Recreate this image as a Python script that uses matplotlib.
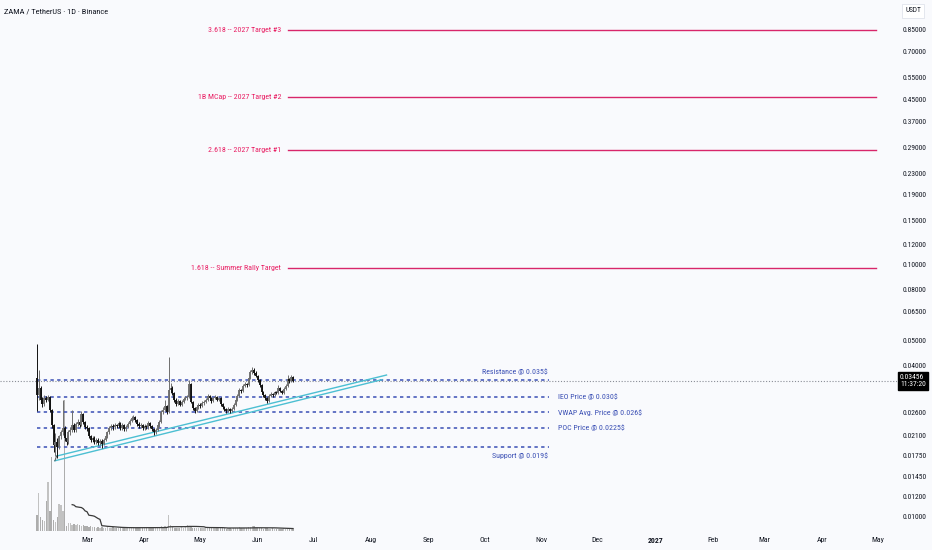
import datetime as dt
import matplotlib
matplotlib.use("Agg")
import matplotlib.pyplot as plt
import matplotlib.dates as mdates
import matplotlib.ticker as mticker
import matplotlib.transforms as mtrans
from matplotlib import font_manager
import numpy as np
import pandas as pd

# ---------------- data ----------------
first_date = dt.date(2026, 2, 2)
open0 = 0.0356
close = [0.0304,0.0325,0.0291,0.0280,0.0296,0.0291,0.0299,0.0265,0.0231,0.0193,
0.0198,0.0189,0.0209,0.0217,0.0225,0.0206,0.0198,0.0217,0.0221,0.0231,
0.0221,0.0234,0.0238,0.0231,0.0256,0.0238,0.0227,0.0225,0.0209,0.0202,
0.0206,0.0198,0.0202,0.0196,0.0200,0.0195,0.0202,0.0209,0.0217,0.0225,
0.0229,0.0227,0.0231,0.0229,0.0236,0.0225,0.0231,0.0223,0.0227,0.0234,
0.0240,0.0247,0.0249,0.0242,0.0234,0.0229,0.0231,0.0225,0.0229,0.0227,
0.0236,0.0229,0.0223,0.0217,0.0221,0.0231,0.0238,0.0261,0.0265,0.0275,
0.0261,0.0318,0.0325,0.0310,0.0291,0.0280,0.0288,0.0278,0.0286,0.0294,
0.0296,0.0299,0.0337,0.0286,0.0270,0.0263,0.0273,0.0278,0.0275,0.0283,
0.0286,0.0291,0.0302,0.0296,0.0288,0.0296,0.0299,0.0291,0.0296,0.0280,
0.0273,0.0268,0.0263,0.0268,0.0263,0.0268,0.0278,0.0291,0.0302,0.0318,
0.0316,0.0330,0.0337,0.0333,0.0355,0.0375,0.0382,0.0372,0.0362,0.0349,
0.0333,0.0313,0.0304,0.0296,0.0288,0.0302,0.0307,0.0304,0.0313,0.0310,
0.0325,0.0316,0.0310,0.0322,0.0330,0.0352,0.0346,0.0359,0.03456]
high = [0.0485,0.0382,0.0330,0.0300,0.0305,0.0302,0.0305,0.0302,0.0268,0.0234,
0.0215,0.0205,0.0212,0.0222,0.0291,0.0229,0.0212,0.0221,0.0227,0.0265,
0.0236,0.0238,0.0244,0.0242,0.0262,0.0258,0.0240,0.0232,0.0228,0.0212,
0.0210,0.0209,0.0206,0.0205,0.0204,0.0203,0.0205,0.0212,0.0220,0.0229,
0.0234,0.0233,0.0235,0.0234,0.0240,0.0238,0.0236,0.0234,0.0232,0.0238,
0.0244,0.0251,0.0254,0.0252,0.0245,0.0237,0.0235,0.0233,0.0233,0.0232,
0.0240,0.0238,0.0231,0.0225,0.0225,0.0235,0.0242,0.0266,0.0272,0.0291,
0.0278,0.0430,0.0338,0.0330,0.0313,0.0295,0.0293,0.0291,0.0290,0.0298,
0.0302,0.0305,0.0349,0.0340,0.0289,0.0273,0.0277,0.0282,0.0282,0.0287,
0.0290,0.0296,0.0307,0.0305,0.0299,0.0300,0.0304,0.0302,0.0300,0.0298,
0.0283,0.0276,0.0271,0.0272,0.0270,0.0272,0.0282,0.0295,0.0306,0.0323,
0.0322,0.0335,0.0342,0.0341,0.0360,0.0382,0.0394,0.0388,0.0378,0.0366,
0.0352,0.0336,0.0317,0.0308,0.0300,0.0306,0.0312,0.0311,0.0317,0.0316,
0.0333,0.0328,0.0319,0.0326,0.0335,0.0365,0.0356,0.0364,0.0362]
low = [0.0263,0.0290,0.0282,0.0272,0.0276,0.0285,0.0287,0.0260,0.0226,0.0181,
0.0175,0.0171,0.0186,0.0203,0.0212,0.0200,0.0192,0.0195,0.0212,0.0218,
0.0217,0.0218,0.0230,0.0227,0.0229,0.0234,0.0223,0.0219,0.0205,0.0198,
0.0199,0.0195,0.0194,0.0192,0.0193,0.0188,0.0193,0.0200,0.0206,0.0214,
0.0221,0.0222,0.0224,0.0225,0.0226,0.0222,0.0222,0.0219,0.0220,0.0225,
0.0231,0.0237,0.0243,0.0238,0.0230,0.0225,0.0226,0.0222,0.0222,0.0223,
0.0224,0.0226,0.0219,0.0211,0.0214,0.0219,0.0228,0.0236,0.0255,0.0262,
0.0256,0.0258,0.0310,0.0305,0.0286,0.0275,0.0277,0.0274,0.0275,0.0283,
0.0290,0.0292,0.0296,0.0282,0.0265,0.0258,0.0260,0.0269,0.0271,0.0272,
0.0279,0.0283,0.0288,0.0292,0.0284,0.0285,0.0293,0.0287,0.0288,0.0276,
0.0269,0.0264,0.0259,0.0260,0.0259,0.0260,0.0265,0.0275,0.0288,0.0299,
0.0310,0.0313,0.0326,0.0328,0.0330,0.0351,0.0370,0.0366,0.0357,0.0344,
0.0328,0.0308,0.0299,0.0290,0.0282,0.0285,0.0298,0.0300,0.0301,0.0306,
0.0307,0.0312,0.0306,0.0307,0.0319,0.0327,0.0341,0.0343,0.0342]
volume = [16,38,14,11,10,30,49,20,74,11,
9,14,27,26,20,131,5,8,8,6,
7,6,7,6,5,6,5,5,4,5,
4,4,3,4,3,4,3,3,4,3,
3,4,3,3,3,4,3,3,3,4,
3,3,4,3,3,3,3,3,4,3,
3,3,3,4,3,3,4,5,4,5,
4,16,6,4,3,3,3,3,4,3,
4,6,5,4,3,3,3,3,3,3,
3,3,4,3,3,3,3,3,3,3,
3,3,2,3,3,2,3,3,3,4,
3,3,3,3,4,4,5,5,3,3,
3,3,2,3,3,2,2,3,2,2,
2,2,2,3,2,3,2,3,2]

# key levels (blue dashed)
level_prices = [0.035, 0.030, 0.026, 0.0225, 0.019]
level_labels = ["Resistance @ 0.035$", "IEO Price @ 0.030$", "VWAP Avg. Price @ 0.026$",
                "POC Price @ 0.0225$", "Support @ 0.019$"]
level_end = dt.date(2026, 11, 5)

# targets (pink)
target_prices = [0.85, 0.46, 0.285, 0.0966]
target_labels = ["3.618 -- 2027 Target #3", "1B MCap -- 2027 Target #2",
                 "2.618 -- 2027 Target #1", "1.618 -- Summer Rally Target"]
target_start = dt.date(2026, 6, 17)
target_end = dt.date(2027, 4, 30)

# rising channel (teal) anchors: (day offset from first_date, price)
chan_upper = [(10.6, 0.01743), (188.3, 0.03651)]
chan_lower = [(9.7, 0.01670), (185.8, 0.0350)]

price_ticks = [0.85, 0.70, 0.55, 0.45, 0.37, 0.29, 0.23, 0.19, 0.15, 0.12, 0.10,
               0.08, 0.065, 0.05, 0.04, 0.026, 0.021, 0.0175, 0.0145, 0.012, 0.010]
month_dates = [dt.date(2026, m, 1) for m in range(3, 13)] + [dt.date(2027, m, 1) for m in range(1, 6)]
month_labels = ["Mar", "Apr", "May", "Jun", "Jul", "Aug", "Sep", "Oct", "Nov", "Dec",
                "2027", "Feb", "Mar", "Apr", "May"]

# ---------------- fonts ----------------
def find_condensed():
    prefs = ["liberation sans narrow", "roboto condensed", "dejavu sans condensed",
             "open sans condensed", "noto sans condensed", "arial narrow"]
    best = None
    for f in font_manager.fontManager.ttflist:
        nm = f.name.lower()
        fn = f.fname.lower().split("/")[-1]
        if f.style != "normal":
            continue
        if f.weight not in (400, "normal", "regular", "book"):
            continue
        if "mono" in nm or "mono" in fn or "serif" in nm:
            continue
        cond = ("narrow" in nm or "condensed" in nm or "narrow" in fn or "condensed" in fn
                or f.stretch in ("condensed", "semi-condensed"))
        if not cond or "extra" in fn or "semi" in fn:
            continue
        rank = len(prefs)
        for i, p in enumerate(prefs):
            if p.replace(" ", "") in (nm + fn).replace(" ", "").replace("-", ""):
                rank = i
                break
        if best is None or rank < best[0]:
            best = (rank, f)
    return best[1] if best else None

cf = find_condensed()
if cf is not None:
    plt.rcParams["font.family"] = [cf.name, "DejaVu Sans"]
    plt.rcParams["font.stretch"] = cf.stretch
    S = 1.0
else:
    plt.rcParams["font.family"] = ["Roboto", "DejaVu Sans"]
    S = 0.88

# ---------------- layout ----------------
W, H, DPI = 932, 550, 100
BG = "#f9fafd"
TXT = "#131722"
PINK = "#e91e63"
BLUE = "#3a4fb4"
TEAL = "#4cbfd2"
PXD = 1.8568            # px per day
R_PX, B_PX = 897, 531

fig = plt.figure(figsize=(W / DPI, H / DPI), dpi=DPI)
fig.patch.set_facecolor(BG)
ax = fig.add_axes([0, 1 - B_PX / H, R_PX / W, B_PX / H])
vax = ax.twinx()
ax.set_zorder(2)
ax.patch.set_visible(False)
vax.set_zorder(1)
vax.patch.set_facecolor(BG)

mar1 = mdates.date2num(dt.date(2026, 3, 1))
ax.set_xlim(mar1 - 87 / PXD, mar1 + (R_PX - 87) / PXD)
ax.set_yscale("log")
top = 10 ** (np.log10(0.85) + 30 / 252.4)
bot = 10 ** (np.log10(0.85) - (B_PX - 30) / 252.4)
ax.set_ylim(bot, top)

n = len(close)
x0 = mdates.date2num(first_date)
xs = x0 + np.arange(n)
opens = [open0] + close[:-1]
c = np.array(close); o = np.array(opens); hi = np.array(high); lo = np.array(low)
up = c >= o
DOWN_C, UP_C = "#111111", "#6e6e6e"
cols = np.where(up, UP_C, DOWN_C)

# volume
vcols = np.where(up, "#c2c2c2", "#adadad")
vax.bar(xs, volume, width=0.7, color=vcols, linewidth=0)
ma = pd.Series(volume, dtype=float).rolling(20).mean()
vax.plot(xs, ma, color="#3a3a3a", lw=0.9)
vax.set_ylim(0, B_PX)
vax.set_yticks([])
for s in vax.spines.values():
    s.set_visible(False)

# candles
ax.vlines(xs, lo, hi, colors=cols, lw=0.7, zorder=4)
bl = np.minimum(o, c); bh = np.maximum(o, c)
bh = np.where(bh / bl < 1.002, bl * 1.002, bh)
ax.vlines(xs, bl, bh, colors=cols, lw=1.35, zorder=5)

FS = 5.7 * S
# key levels
for p, lab in zip(level_prices, level_labels):
    ax.plot([x0, mdates.date2num(level_end)], [p, p], color=BLUE, lw=1.1,
            ls=(0, (2.2, 2.2)), zorder=3)
xe = mdates.date2num(level_end)
kw = dict(textcoords="offset points", color=BLUE, fontsize=FS, zorder=6)
ax.annotate(level_labels[0], xy=(xe, level_prices[0]), xytext=(-1, 3), ha="right", va="bottom", **kw)
for p, lab in zip(level_prices[1:4], level_labels[1:4]):
    ax.annotate(lab, xy=(xe, p), xytext=(6, 0), ha="left", va="center", **kw)
ax.annotate(level_labels[4], xy=(xe, level_prices[4]), xytext=(-1, -4), ha="right", va="top", **kw)

# targets
ts, te = mdates.date2num(target_start), mdates.date2num(target_end)
for p, lab in zip(target_prices, target_labels):
    ax.plot([ts, te], [p, p], color="#d8266a", lw=1.0, zorder=3)
    ax.annotate(lab, xy=(ts, p), xytext=(-4.5, 0), textcoords="offset points",
                ha="right", va="center", color=PINK, fontsize=FS)

# channel
for line in (chan_upper, chan_lower):
    ax.plot([x0 + line[0][0], x0 + line[1][0]], [line[0][1], line[1][1]],
            color=TEAL, lw=1.0, zorder=3)
ax.plot([x0 + chan_upper[0][0], x0 + chan_lower[0][0]], [chan_upper[0][1], chan_lower[0][1]],
        color="#555555", lw=0.7, zorder=3)

# last price line + label
last = close[-1]
ax.axhline(last, color="#8a8d96", lw=0.8, ls=(0, (1, 1.6)), zorder=2)
blend = mtrans.blended_transform_factory(ax.transAxes, ax.transData)
ax.text(1.0 + 3 / R_PX, last, f"{last:.5f}\n11:37:20", transform=blend, ha="left", va="center",
        fontsize=5.4 * S, color="white", linespacing=1.05, clip_on=False, zorder=10,
        bbox=dict(boxstyle="square,pad=0.3", fc="black", ec="black"))

# axes styling
for s in ax.spines.values():
    s.set_visible(False)
ax.yaxis.tick_right()
ax.set_yticks(price_ticks)
ax.yaxis.set_minor_locator(mticker.NullLocator())
ax.yaxis.set_major_formatter(mticker.FuncFormatter(lambda v, p: f"{v:.5f}"))
ax.tick_params(axis="y", length=0, pad=4, labelsize=5.4 * S, labelcolor=TXT)
ax.set_xticks([mdates.date2num(d) for d in month_dates])
ax.set_xticklabels(month_labels)
ax.xaxis.set_minor_locator(mticker.NullLocator())
ax.tick_params(axis="x", length=0, pad=4, labelsize=5.6 * S, labelcolor=TXT)
for t in ax.get_xticklabels():
    if t.get_text() == "2027":
        t.set_fontweight("bold")

fig.text(4 / W, 1 - 11 / H, "ZAMA / TetherUS · 1D · Binance", ha="left", va="center",
         fontsize=6.0 * S, color=TXT)
fig.text(913 / W, 1 - 11 / H, "USDT", ha="center", va="center", fontsize=5.2 * S, color=TXT,
         bbox=dict(boxstyle="square,pad=0.45", fc="white", ec="#e0e3eb", lw=0.6))

fig.savefig("out.png", dpi=DPI, facecolor=BG)
